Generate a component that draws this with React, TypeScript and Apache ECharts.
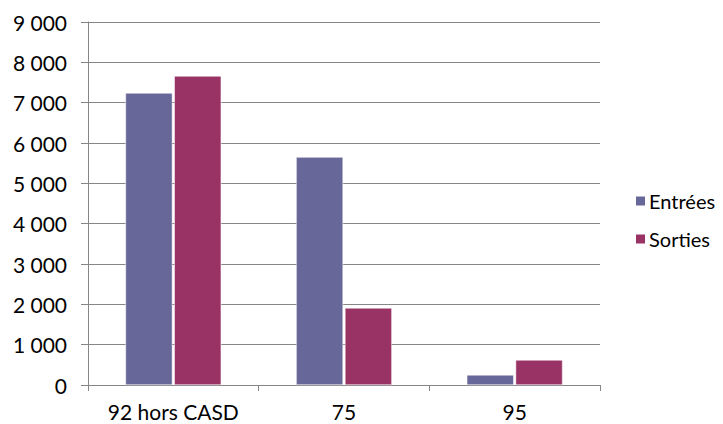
import React, { useEffect, useRef } from "react";
import * as echarts from "echarts";

const categories = ["92 hors CASD", "75", "95"];
const entrees = [7240, 5650, 250];
const sorties = [7660, 1910, 620];
const seriesNames = ["Entrées", "Sorties"];

const fmt = (v: number) => {
  const s = String(Math.round(v));
  return s.replace(/\B(?=(\d{3})+(?!\d))/g, " ");
};

export default function App() {
  const ref = useRef<HTMLDivElement>(null);
  useEffect(() => {
    if (!ref.current) return;
    const chart = echarts.init(ref.current, undefined, { renderer: "svg" });
    const font = "Lato, 'Open Sans', sans-serif";
    chart.setOption({
      animation: false,
      backgroundColor: "#ffffff",
      textStyle: { fontFamily: font },
      grid: { left: 88, top: 22, right: 123, bottom: 39, containLabel: false },
      legend: {
        orient: "vertical",
        left: 629,
        top: 186,
        itemWidth: 11,
        itemHeight: 11,
        itemGap: 18,
        icon: "rect",
        textStyle: { fontSize: 20, color: "#000", fontFamily: font, padding: [0, 0, 0, -2] },
        data: seriesNames,
      },
      xAxis: {
        type: "category",
        data: categories,
        axisLine: { show: true, lineStyle: { color: "#868686", width: 1 } },
        axisTick: { show: true, length: 6, alignWithLabel: false, lineStyle: { color: "#868686" } },
        axisLabel: { fontSize: 21, color: "#000", margin: 16, fontFamily: font },
      },
      yAxis: {
        type: "value",
        min: 0,
        max: 9000,
        interval: 1000,
        axisLine: { show: true, lineStyle: { color: "#868686", width: 1 } },
        axisTick: { show: true, length: 7, lineStyle: { color: "#868686" } },
        axisLabel: { fontSize: 21, color: "#000", margin: 21, fontFamily: font, formatter: fmt },
        splitLine: { show: true, lineStyle: { color: "#868686", width: 1 } },
      },
      series: [
        {
          name: seriesNames[0],
          type: "bar",
          data: entrees,
          barWidth: "27.5%",
          barGap: "4%",
          itemStyle: { color: "#676799", borderColor: "#ffffff", borderWidth: 0.5 },
        },
        {
          name: seriesNames[1],
          type: "bar",
          data: sorties,
          barWidth: "27.5%",
          barGap: "4%",
          itemStyle: { color: "#993366", borderColor: "#ffffff", borderWidth: 0.5 },
        },
      ],
    });
    return () => chart.dispose();
  }, []);
  return <div ref={ref} style={{ width: 723, height: 424, position: "absolute", left: 0, top: 0 }} />;
}
